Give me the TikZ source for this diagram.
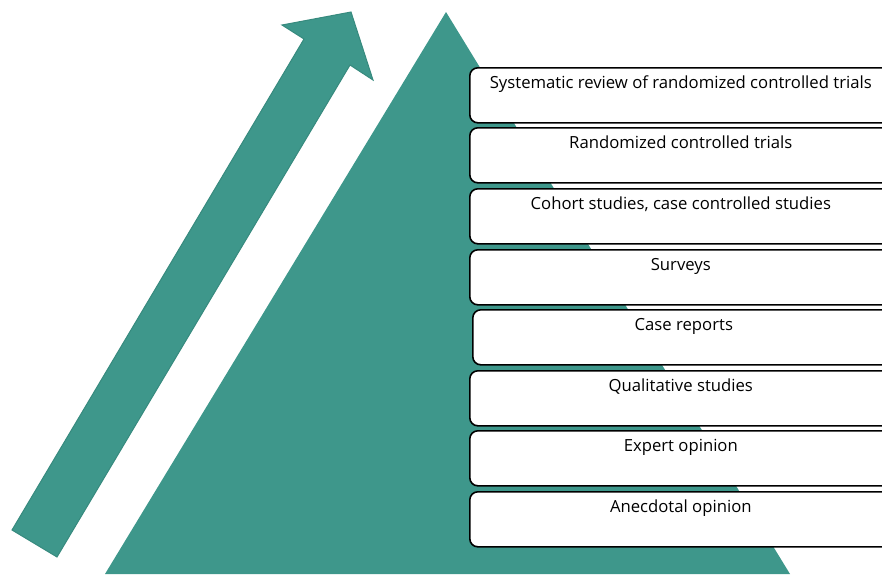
\documentclass[tikz,border=0pt]{standalone}
\usepackage{fontspec}
\setmainfont{Open Sans}
\definecolor{pyrteal}{HTML}{3E978B}
\definecolor{pyredge}{HTML}{378A7E}
\tikzset{
  level/.style={draw=black, line width=1.6pt, rounded corners=8pt, fill=white,
    minimum width=422pt, minimum height=55pt, anchor=north west, inner sep=0pt},
  leveltext/.style={font=\fontsize{16.7}{20}\selectfont, anchor=base}
}
\begin{document}
\begin{tikzpicture}[x=1pt, y=-1pt]
  \useasboundingbox (0,0) rectangle (882,574);
  \clip (0,0) rectangle (882,574);
  % rising arrow
  \filldraw[fill=pyrteal, draw=pyredge, line width=1pt]
    (12,530) -- (304,39) -- (282,25) -- (351,12) -- (373,80) -- (350,65) -- (57,557) -- cycle;
  % pyramid
  \fill[pyrteal] (446,12) -- (790,574) -- (105,574) -- cycle;
  % levels of evidence, top to bottom
  \foreach \y/\dx/\txt [count=\i] in {
      67/0/Systematic review of randomized controlled trials,
      127/0/Randomized controlled trials,
      {188/0/Cohort studies, case controlled studies},
      249/0/Surveys,
      309/3/Case reports,
      370/0/Qualitative studies,
      430/0/Expert opinion,
      491/0/Anecdotal opinion} {
    \node[level] (lvl\i) at (469+\dx,\y) {};
    \node[leveltext] (lbl\i) at ([yshift=-21pt]lvl\i.north) {\txt};
  }
\end{tikzpicture}
\end{document}
